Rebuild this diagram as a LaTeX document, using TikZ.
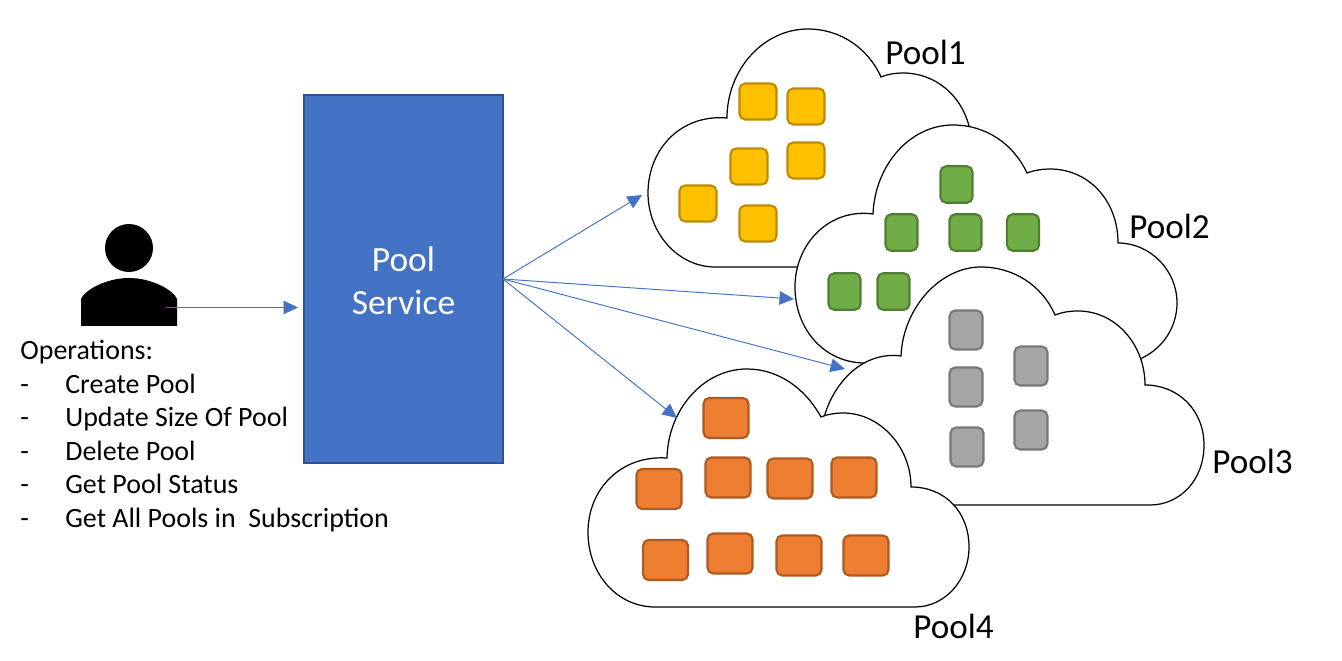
\documentclass[tikz,border=0pt]{standalone}
\usepackage{fontspec}
\setmainfont{Carlito}
\usepackage{xcolor}
\usepackage{tikz}
\usetikzlibrary{arrows.meta}

\definecolor{serviceblue}{HTML}{4472C4}
\definecolor{serviceline}{HTML}{2F528F}
\definecolor{yellowfill}{HTML}{FFC000}
\definecolor{yellowline}{HTML}{BC8C00}
\definecolor{greenfill}{HTML}{70AD47}
\definecolor{greenline}{HTML}{507E32}
\definecolor{grayfill}{HTML}{A5A5A5}
\definecolor{grayline}{HTML}{787878}
\definecolor{orangefill}{HTML}{ED7D31}
\definecolor{orangeline}{HTML}{AE5A21}

\tikzset{
  cloudline/.style={draw=black,fill=white,line width=0.7pt},
  yellowbox/.style={rectangle,rounded corners=3.2pt,inner sep=0pt,minimum width=0.74cm,minimum height=0.72cm,fill=yellowfill,draw=yellowline,line width=1.2pt},
  greenbox/.style={rectangle,rounded corners=3.2pt,inner sep=0pt,minimum width=0.64cm,minimum height=0.73cm,fill=greenfill,draw=greenline,line width=1.2pt},
  graybox/.style={rectangle,rounded corners=3.2pt,inner sep=0pt,minimum width=0.66cm,minimum height=0.78cm,fill=grayfill,draw=grayline,line width=1.2pt},
  orangebox/.style={rectangle,rounded corners=3.2pt,inner sep=0pt,minimum width=0.90cm,minimum height=0.80cm,fill=orangefill,draw=orangeline,line width=1.2pt},
  poollabel/.style={anchor=base west,inner sep=0pt,font=\fontsize{20}{24}\selectfont},
  optext/.style={anchor=base west,inner sep=0pt,font=\fontsize{15.9}{19}\selectfont},
  flow/.style={->,draw=serviceblue,line width=0.55pt}
}

\begin{document}
\begin{tikzpicture}[x=0.02cm, y=-0.02cm, >={Triangle[length=2.9mm,width=2.7mm]}]

\useasboundingbox (0,0) rectangle (1342,661);

% clouds, back to front
\path[cloudline] (715,267) .. controls (678,267) and (648,233) .. (648,193)
  .. controls (648,150) and (680,114) .. (727,118)
  .. controls (727,70) and (763,29) .. (808,29)
  .. controls (840,29) and (868,48) .. (881,77)
  .. controls (888,74) and (896,73) .. (903,73)
  .. controls (935,73) and (961,95) .. (969,126)
  -- (960,200) -- (880,267) -- cycle;
\path[cloudline] (865,363) .. controls (825,363) and (795,330) .. (795,287)
  .. controls (795,243) and (830,208) .. (873,214)
  .. controls (875,165) and (910,125) .. (953,125)
  .. controls (985,125) and (1013,143) .. (1027,173)
  .. controls (1035,170) and (1043,169) .. (1050,169)
  .. controls (1088,169) and (1118,200) .. (1118,243)
  .. controls (1150,243) and (1177,270) .. (1177,303)
  .. controls (1177,327) and (1163,348) .. (1142,358)
  -- (1100,400) -- (900,400) -- cycle;
\path[cloudline] (822,425) .. controls (832,380) and (865,351) .. (901,356)
  .. controls (903,308) and (940,267) .. (981,267)
  .. controls (1013,267) and (1042,285) .. (1055,315)
  .. controls (1063,312) and (1070,311) .. (1078,311)
  .. controls (1116,311) and (1145,345) .. (1145,385)
  .. controls (1178,385) and (1204,410) .. (1204,445)
  .. controls (1204,480) and (1180,505) .. (1150,505)
  -- (900,505) -- (850,480) -- cycle;
\path[cloudline] (655,607) .. controls (618,607) and (588,575) .. (588,532)
  .. controls (588,490) and (620,455) .. (667,458)
  .. controls (668,410) and (703,369) .. (747,369)
  .. controls (778,369) and (805,388) .. (821,417)
  .. controls (828,414) and (836,413) .. (843,413)
  .. controls (880,413) and (911,447) .. (911,487)
  .. controls (945,487) and (969,512) .. (969,547)
  .. controls (969,580) and (945,607) .. (915,607)
  -- cycle;

\node (yellow1) at (758,101.5) [yellowbox] {};
\node (yellow2) at (806,106.5) [yellowbox] {};
\node (yellow3) at (749,166.5) [yellowbox] {};
\node (yellow4) at (806,160.5) [yellowbox] {};
\node (yellow5) at (698,203.5) [yellowbox] {};
\node (yellow6) at (758,223.5) [yellowbox] {};

\node (green1) at (956.5,184.5) [greenbox] {};
\node (green2) at (901.5,232.5) [greenbox] {};
\node (green3) at (965.5,232.5) [greenbox] {};
\node (green4) at (1023,232.5) [greenbox] {};
\node (green5) at (844.5,291.5) [greenbox] {};
\node (green6) at (893.5,291.5) [greenbox] {};

\node (gray1) at (966,330) [graybox] {};
\node (gray2) at (966,387) [graybox] {};
\node (gray3) at (967,447) [graybox] {};
\node (gray4) at (1031,366) [graybox] {};
\node (gray5) at (1031,430) [graybox] {};

\node (orange1) at (726,418) [orangebox] {};
\node (orange2) at (659,489) [orangebox] {};
\node (orange3) at (728,477.5) [orangebox] {};
\node (orange4) at (790,478.5) [orangebox] {};
\node (orange5) at (854,477.5) [orangebox] {};
\node (orange6) at (665.5,560) [orangebox] {};
\node (orange7) at (730,553.5) [orangebox] {};
\node (orange8) at (799,555.5) [orangebox] {};
\node (orange9) at (866,555.5) [orangebox] {};

\node (pool1) at (885,65) [poollabel] {Pool1};
\node (pool2) at (1129,239) [poollabel] {Pool2};
\node (pool3) at (1212,474) [poollabel] {Pool3};
\node (pool4) at (913,639) [poollabel] {Pool4};

% user
\node (head) at (129,248) [circle,inner sep=0pt,minimum size=0.96cm,fill=black] {};
\fill[black] (81,326) -- (81,299) .. controls (84,291) and (105,278) .. (129,278)
  .. controls (153,278) and (174,291) .. (177,299) -- (177,326) -- cycle;

\node (service) at (403.5,279) [rectangle,minimum width=3.98cm,minimum height=7.36cm,fill=serviceblue,draw=serviceline,line width=1pt] {};
\node (servicetext) at (403.5,280.5) [text=white,align=center,font=\fontsize{20.2}{24.4}\selectfont] {Pool\\Service};

\coordinate (userout) at (166,307.5);
\coordinate (servicein) at (298,307.5);
\coordinate (serviceout) at (503,279);
\coordinate (tip1) at (642,195);
\coordinate (tip2) at (794,299);
\coordinate (tip3) at (845,369);
\coordinate (tip4) at (677,418);

\draw[flow] (userout) -- (servicein);
\draw[flow] (serviceout) -- (tip1);
\draw[flow] (serviceout) -- (tip2);
\draw[flow] (serviceout) -- (tip3);
\draw[flow] (serviceout) -- (tip4);

\node (ops) at (20,360) [optext] {Operations:};
\node (dash1) at (20,393.5) [optext] {-};
\node (dash2) at (20,427) [optext] {-};
\node (dash3) at (20,460.5) [optext] {-};
\node (dash4) at (20,494) [optext] {-};
\node (dash5) at (20,527.5) [optext] {-};
\node (op1) at (65,393.5) [optext] {Create Pool};
\node (op2) at (65,427) [optext] {Update Size Of Pool};
\node (op3) at (65,460.5) [optext] {Delete Pool};
\node (op4) at (65,494) [optext] {Get Pool Status};
\node (op5) at (65,527.5) [optext] {Get All Pools in\ \ Subscription};

\end{tikzpicture}
\end{document}
